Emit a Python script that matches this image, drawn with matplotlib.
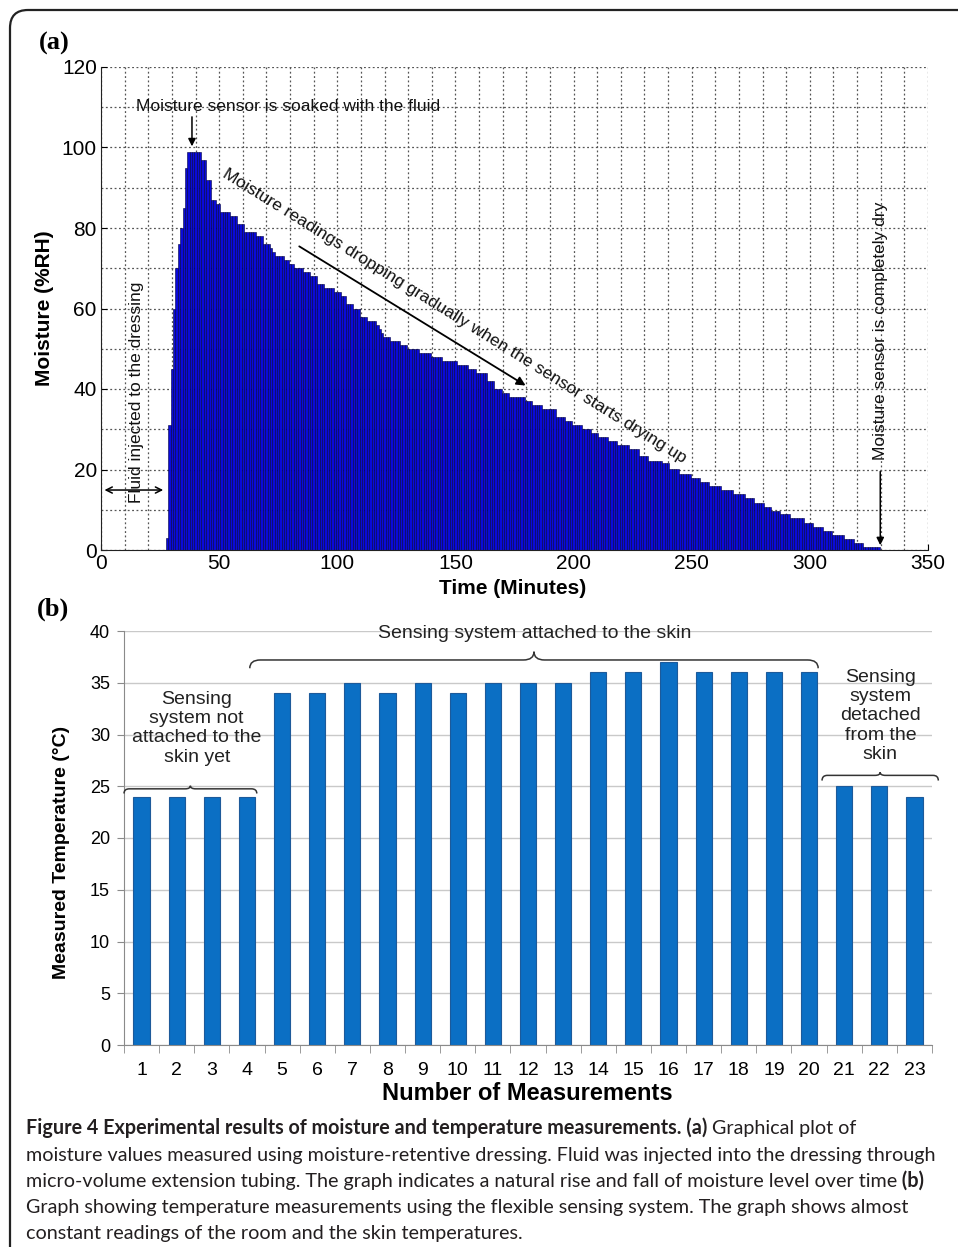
import numpy as np
import matplotlib
matplotlib.use("Agg")
import matplotlib.pyplot as plt
from matplotlib.patches import FancyBboxPatch, PathPatch
from matplotlib.path import Path
from matplotlib.transforms import IdentityTransform
from matplotlib.ticker import MultipleLocator

# ---- panel (a): moisture, one bar per minute ----
MINUTES = list(range(28, 330))
MOISTURE = [
    3, 31,
    45, 60, 70, 76, 80, 85, 95, 99, 99, 99,
    99, 99, 99, 97, 97, 92, 92, 87, 87, 86,
    86, 84, 84, 84, 84, 83, 83, 83, 81, 81,
    81, 79, 79, 79, 79, 79, 78, 78, 78, 76,
    76, 76, 75, 74, 73, 73, 73, 73, 72, 72,
    71, 71, 70, 70, 70, 70, 69, 69, 69, 68,
    68, 68, 66, 66, 66, 65, 65, 65, 65, 64,
    64, 64, 63, 63, 61, 61, 61, 60, 60, 60,
    58, 58, 58, 57, 57, 57, 57, 56, 55, 54,
    53, 53, 53, 52, 52, 52, 52, 51, 51, 51,
    50, 50, 50, 50, 50, 49, 49, 49, 49, 49,
    48, 48, 48, 48, 48, 47, 47, 47, 47, 47,
    47, 46, 46, 46, 46, 46, 45, 45, 45, 44,
    44, 44, 44, 44, 42, 42, 42, 40, 40, 40,
    39, 39, 39, 38, 38, 38, 38, 38, 38, 38,
    37, 37, 37, 36, 36, 36, 36, 35, 35, 35,
    35, 35, 35, 33, 33, 33, 33, 32, 32, 32,
    31, 31, 31, 31, 30, 30, 30, 30, 29, 29,
    29, 28, 28, 28, 28, 27, 27, 27, 27, 26,
    26, 26, 26, 26, 25, 25, 25, 25, 23.4, 23.4,
    23.4, 23.4, 22, 22, 22, 22, 22, 22, 21.5, 21.5,
    21.5, 20.2, 20.2, 20.2, 20.2, 19, 19, 19, 19, 19,
    18, 18, 18, 18, 17, 17, 17, 17, 16, 16,
    16, 16, 16, 15, 15, 15, 15, 15, 14, 14,
    14, 14, 14, 13, 13, 13, 13, 11.8, 11.8, 11.8,
    11.8, 10.8, 10.8, 10.8, 9.8, 9.8, 9.8, 9.8, 8.9, 8.9,
    8.9, 8.9, 7.9, 7.9, 7.9, 7.9, 7.9, 7.9, 6.8, 6.8,
    6.8, 6.8, 5.8, 5.8, 5.8, 5.8, 4.8, 4.8, 4.8, 4.8,
    3.7, 3.7, 3.7, 3.7, 3.7, 2.7, 2.7, 2.7, 2.7, 1.8,
    1.8, 1.8, 1.8, 0.8, 0.8, 0.8, 0.8, 0.8, 0.8, 0.8,
]

# ---- panel (b): temperature ----
MEASUREMENT = list(range(1, 24))
TEMPERATURE = [24, 24, 24, 24, 34, 34, 35, 34, 35, 34, 35, 35,
               35, 36, 36, 37, 36, 36, 36, 36, 25, 25, 24]

CAPTION = [
    ("Figure 4 Experimental results of moisture and temperature measurements. (a)",
     " Graphical plot of", None),
    ("", "moisture values measured using moisture-retentive dressing. Fluid was injected into the dressing through", None),
    ("", "micro-volume extension tubing. The graph indicates a natural rise and fall of moisture level over time", " (b)"),
    ("", "Graph showing temperature measurements using the flexible sensing system. The graph shows almost", None),
    ("", "constant readings of the room and the skin temperatures.", None),
]

SANS = ["Liberation Sans", "DejaVu Sans"]
W, H = 958, 1247

fig = plt.figure(figsize=(W / 100, H / 100), dpi=100)
fig.patch.set_facecolor("white")


def px_axes(left, top, right, bottom):
    return [left / W, 1 - bottom / H, (right - left) / W, (bottom - top) / H]


# ================= panel (a) =================
ax1 = fig.add_axes(px_axes(101, 67, 928, 550))
ax1.bar(MINUTES, MOISTURE, width=1.0, color="#0a0ad8", edgecolor="#000040",
        linewidth=0.4, zorder=2)
ax1.set_xlim(0, 350)
ax1.set_ylim(0, 120)
ax1.xaxis.set_major_locator(MultipleLocator(50))
ax1.xaxis.set_minor_locator(MultipleLocator(10))
ax1.yaxis.set_major_locator(MultipleLocator(20))
ax1.yaxis.set_minor_locator(MultipleLocator(10))
ax1.grid(True, which="both", linestyle=(0, (1.5, 2)), color="#555555", linewidth=0.9)
ax1.set_axisbelow(True)
for s in ("top", "right"):
    ax1.spines[s].set_visible(False)
for s in ("left", "bottom"):
    ax1.spines[s].set_color("#222222")
ax1.tick_params(which="both", direction="in", length=4, labelsize=15, pad=3)
ax1.tick_params(which="minor", length=0)
for lab in ax1.get_xticklabels() + ax1.get_yticklabels():
    lab.set_family(SANS)

fig.text(45 / W, 1 - 308 / H, "Moisture (%RH)", rotation=90, ha="center", va="center",
         fontsize=15, fontweight="bold", family=SANS)
fig.text(513 / W, 1 - 588 / H, "Time (Minutes)", ha="center", va="center",
         fontsize=15, fontweight="bold", family=SANS)
fig.text(54 / W, 1 - 43 / H, "(a)", ha="center", va="center", fontsize=19,
         fontweight="bold", family=["Liberation Serif", "DejaVu Serif"])

ANN = dict(fontsize=12.5, family=SANS, color="#111111")
ax1.text(14.8, 110.3, "Moisture sensor is soaked with the fluid", ha="left", va="center", **ANN)
ax1.annotate("", xy=(38.5, 99.6), xytext=(38.5, 108.3),
             arrowprops=dict(arrowstyle="-|>", color="black", lw=1.1, mutation_scale=11))
ax1.text(149.6, 58.0, "Moisture readings dropping gradually when the sensor starts drying up",
         rotation=-31.9, rotation_mode="anchor", ha="center", va="center", **ANN)
ax1.annotate("", xy=(180.7, 40.5), xytext=(82.9, 75.8),
             arrowprops=dict(arrowstyle="-|>", color="black", lw=1.3, mutation_scale=13))
ax1.text(15.2, 39.3, "Fluid injected to the dressing", rotation=90, ha="center",
         va="center", **ANN)
ax1.annotate("", xy=(0.3, 14.9), xytext=(27.5, 14.9),
             arrowprops=dict(arrowstyle="<->", color="black", lw=1.1, mutation_scale=11))
ax1.text(329.8, 54.4, "Moisture sensor is completely dry", rotation=90, ha="center",
         va="center", **ANN)
ax1.annotate("", xy=(329.8, 0.5), xytext=(329.8, 20.2),
             arrowprops=dict(arrowstyle="-|>", color="black", lw=1.1, mutation_scale=11))

# ================= panel (b) =================
ax2 = fig.add_axes(px_axes(124, 631, 932, 1045))
ax2.bar(MEASUREMENT, TEMPERATURE, width=0.46, color="#0b6fc4", edgecolor="#1d5a9a",
        linewidth=0.8, zorder=2)
ax2.set_xlim(0.5, 23.5)
ax2.set_ylim(0, 40)
ax2.set_xticks(MEASUREMENT)
ax2.set_xticks(np.arange(0.5, 24, 1.0), minor=True)
ax2.yaxis.set_major_locator(MultipleLocator(5))
ax2.grid(True, axis="y", color="#c9c9c9", linewidth=1.0)
ax2.set_axisbelow(True)
for s in ("top", "right"):
    ax2.spines[s].set_visible(False)
for s in ("left", "bottom"):
    ax2.spines[s].set_color("#8a8a8a")
ax2.tick_params(axis="x", which="major", length=0, labelsize=14, pad=12)
ax2.tick_params(axis="x", which="minor", length=6, color="#8a8a8a", direction="out")
ax2.tick_params(axis="y", length=5, color="#8a8a8a", labelsize=13, pad=5)
for lab in ax2.get_xticklabels() + ax2.get_yticklabels():
    lab.set_family(SANS)

fig.text(62 / W, 1 - 852 / H, "Measured Temperature (\u00b0C)", rotation=90, ha="center",
         va="center", fontsize=14, fontweight="bold", family=SANS)
fig.text(527 / W, 1 - 1094 / H, "Number of Measurements", ha="center", va="center",
         fontsize=17, fontweight="bold", family=SANS)
fig.text(53 / W, 1 - 609 / H, "(b)", ha="center", va="center", fontsize=19,
         fontweight="bold", family=["Liberation Serif", "DejaVu Serif"])


def brace(ax, x0, x1, y, h, r, xm=None, tip=None):
    if xm is None:
        xm = (x0 + x1) / 2
    if tip is None:
        tip = h
    verts = [(x0, y - h), (x0, y), (x0 + r, y), (xm - r, y), (xm, y), (xm, y + tip),
             (xm, y), (xm + r, y), (x1 - r, y), (x1, y), (x1, y - h)]
    codes = [Path.MOVETO, Path.CURVE3, Path.CURVE3, Path.LINETO, Path.CURVE3, Path.CURVE3,
             Path.CURVE3, Path.CURVE3, Path.LINETO, Path.CURVE3, Path.CURVE3]
    ax.add_patch(PathPatch(Path(verts, codes), facecolor="none", edgecolor="#333333",
                           lw=1.1, clip_on=False, zorder=3))


brace(ax2, 4.08, 20.26, 37.2, 0.8, 0.3, xm=12.17)
brace(ax2, 0.5, 4.28, 24.75, 0.45, 0.15, tip=0.3)
brace(ax2, 20.37, 23.68, 26.05, 0.5, 0.15, tip=0.3)

TXT = dict(fontsize=14, family=SANS, color="#222222")
ax2.text(12.2, 39.8, "Sensing system attached to the skin", ha="center", va="center",
         clip_on=False, **TXT)
ax2.text(2.57, 30.6, "Sensing\nsystem not\nattached to the\nskin yet", ha="center",
         va="center", linespacing=1.17, **TXT)
ax2.text(22.03, 31.8, "Sensing\nsystem\ndetached\nfrom the\nskin", ha="center",
         va="center", linespacing=1.17, **TXT)

# ================= frame =================
fig.patches.append(FancyBboxPatch((10, -30), 1100, H - 10 + 30,
                                  boxstyle="round,pad=0,rounding_size=18",
                                  transform=IdentityTransform(), facecolor="none",
                                  edgecolor="#222222", lw=1.6))

# ================= caption =================
CAP_FONT = ["Liberation Sans Narrow", "Lato", "DejaVu Sans"]
fig.canvas.draw()
renderer = fig.canvas.get_renderer()
probe = fig.text(0, 0, CAPTION[1][1], fontsize=12, family=CAP_FONT)
pw = probe.get_window_extent(renderer).width
probe.remove()
cap_size = 12 * 906 / pw

baselines = [1134, 1161, 1187, 1213, 1239]
for (bold_part, normal_part, tail), yb in zip(CAPTION, baselines):
    x = 26
    y = 1 - yb / H
    for part, weight in ((bold_part, "bold"), (normal_part, "normal"), (tail, "bold")):
        if not part:
            continue
        t = fig.text(x / W, y, part, fontsize=cap_size, fontweight=weight, family=CAP_FONT,
                     color="#231f20", ha="left", va="baseline")
        x += t.get_window_extent(renderer).width

fig.savefig("out.png", dpi=100, facecolor="white")
